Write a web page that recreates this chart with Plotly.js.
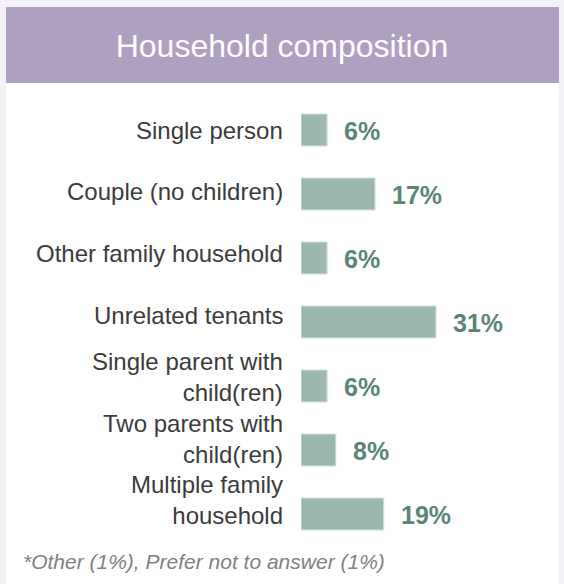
<!DOCTYPE html>
<html>
<head>
<meta charset="utf-8">
<script src="https://cdn.plot.ly/plotly-3.0.1.min.js"></script>
<style>
  html, body { margin: 0; padding: 0; background: #f3f1f6; }
  #chart { width: 564px; height: 584px; }
</style>
</head>
<body>
<div id="chart"></div>
<script>
const categories = [
  "Single person",
  "Couple (no children)",
  "Other family household",
  "Unrelated tenants",
  "Single parent with<br>child(ren)",
  "Two parents with<br>child(ren)",
  "Multiple family<br>household"
];
const values = [6, 17, 6, 31, 6, 8, 19];
const chartTitle = "Household composition";
const footnote = "*Other (1%), Prefer not to answer (1%)";

const W = 564, H = 584;
const M = { l: 301, r: 6, t: 98, b: 37.5, pad: 0 };
const plotW = W - M.l - M.r, plotH = H - M.t - M.b;
const pxPerUnit = 135 / 31;
const xMax = plotW / pxPerUnit;
const labelDrift = 2.3; // labels sit on a slightly tighter pitch than bars

const px2x = p => (p - M.l) / plotW;
const px2y = p => (H - M.b - p) / plotH;

const FONT = "'Liberation Sans', Arial, sans-serif";
const BAR = "#9bb8b0";
const VAL = "#5b8477";

const trace = {
  type: "bar",
  orientation: "h",
  x: values,
  y: categories,
  marker: { color: BAR, line: { color: "#d3e2dd", width: 1 } },
  hoverinfo: "skip"
};

const valueAnnotations = values.map((v, i) => ({
  x: v, y: categories[i], xref: "x", yref: "y",
  text: v + "%", showarrow: false, xanchor: "left", xshift: 15, yshift: -1,
  font: { family: FONT, size: 25, color: VAL, weight: "bold" }
}));

const labelAnnotations = categories.map((c, i) => ({
  x: 0, y: c, xref: "x", yref: "y",
  text: c, showarrow: false, xanchor: "right", align: "right",
  xshift: -16, yshift: i * labelDrift,
  font: { family: FONT, size: 24, color: "#3b3b3b" }
}));

const layout = {
  width: W, height: H,
  margin: M,
  paper_bgcolor: "#f3f1f6",
  plot_bgcolor: "rgba(0,0,0,0)",
  showlegend: false,
  bargap: 0.5,
  title: {
    text: chartTitle,
    font: { family: FONT, size: 32, color: "#ffffff" },
    x: 0.5, xref: "container", xanchor: "center",
    y: 1 - 46 / H, yref: "container", yanchor: "middle",
    automargin: false
  },
  xaxis: {
    range: [0, xMax], visible: false, fixedrange: true, automargin: false
  },
  yaxis: {
    type: "category", range: [categories.length - 0.5, -0.5], automargin: false,
    showgrid: false, zeroline: false, showline: false, ticks: "",
    showticklabels: false, fixedrange: true
  },
  shapes: [
    { type: "rect", xref: "paper", yref: "paper", layer: "below",
      x0: px2x(6), x1: px2x(559), y0: px2y(7), y1: px2y(600),
      fillcolor: "#ffffff", line: { width: 0 } },
    { type: "rect", xref: "paper", yref: "paper", layer: "below",
      x0: px2x(6), x1: px2x(559), y0: px2y(7), y1: px2y(83),
      fillcolor: "#afa0c1", line: { width: 0 } }
  ],
  annotations: labelAnnotations.concat(valueAnnotations).concat([
    { xref: "paper", yref: "paper", x: px2x(21), y: px2y(562),
      xanchor: "left", yanchor: "middle", showarrow: false,
      text: "<i>" + footnote + "</i>",
      font: { family: FONT, size: 21, color: "#808080" } }
  ])
};

Plotly.newPlot("chart", [trace], layout, { displayModeBar: false, staticPlot: true });
</script>
</body>
</html>
